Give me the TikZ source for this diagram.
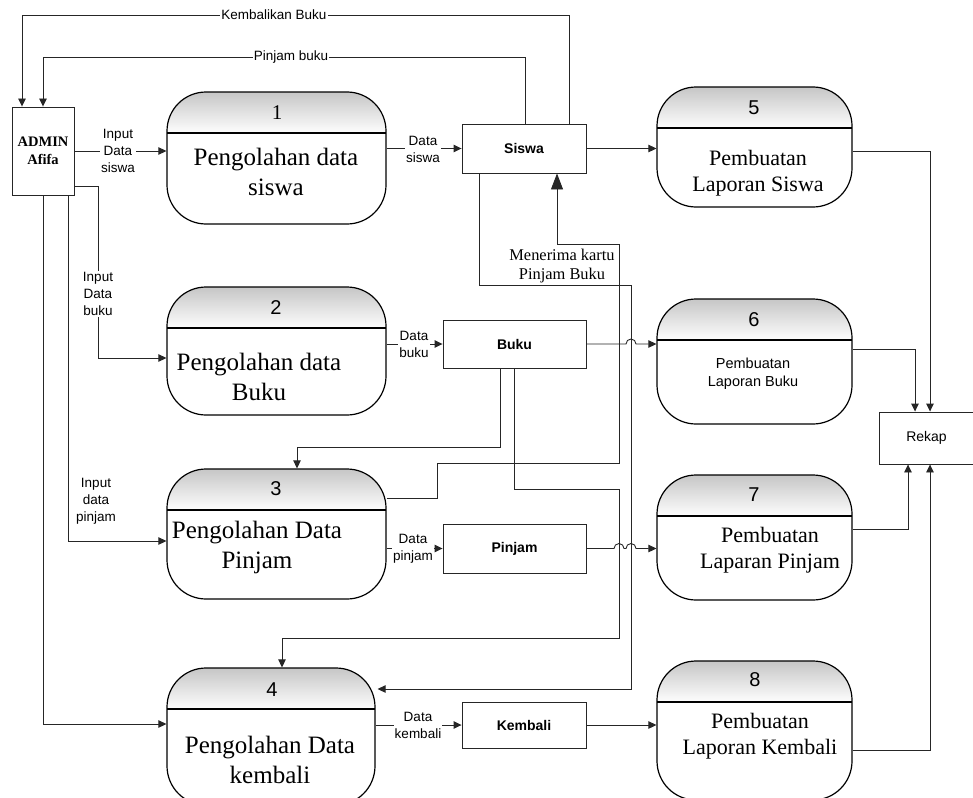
\documentclass[tikz,border=0pt]{standalone}
\usepackage{fontspec}
\setmainfont{Liberation Serif}
\newfontfamily\arial{Liberation Sans}
\usetikzlibrary{arrows.meta,calc}
\definecolor{hdtop}{HTML}{C6C6C6}
\definecolor{hdbot}{HTML}{FCFCFC}
\definecolor{ln}{HTML}{262626}
\tikzset{
  flow/.style={draw=ln, line width=0.9pt, -{Triangle[length=8pt,width=7.5pt]}},
  bigflow/.style={draw=ln, line width=0.9pt, -{Triangle[length=16pt,width=12pt]}},
  store/.style={draw=ln, line width=0.9pt, rectangle, inner sep=0pt, font=\arial\bfseries\fontsize{14}{16}\selectfont},
  proc/.style={draw=black, line width=1.2pt, rectangle, rounded corners=39pt, inner sep=0pt,
    path picture={
      \foreach \i in {0,...,40}{
        \pgfmathtruncatemacro\pc{100-\i*2.5}
        \pgfmathsetmacro\ya{-\i}
        \pgfmathsetmacro\yb{-\i-1.2}
        \fill[sharp corners, hdtop!\pc!hdbot] ([yshift=\ya pt]path picture bounding box.north west) rectangle ([yshift=\yb pt]path picture bounding box.north east);
      }
      \fill[sharp corners, white] ([yshift=-41.5pt]path picture bounding box.north west) rectangle (path picture bounding box.south east);
      \draw[sharp corners, line width=1.2pt] ([yshift=-41pt]path picture bounding box.north west) -- ([yshift=-41pt]path picture bounding box.north east);
    }},
  lbl/.style={font=\arial\fontsize{13.5}{17}\selectfont, align=center, inner sep=1pt, fill=white},
  numsf/.style={font=\arial\fontsize{20}{24}\selectfont, inner sep=0pt},
  numrm/.style={font=\fontsize{21}{24}\selectfont, inner sep=0pt},
  bigtxt/.style={font=\fontsize{25}{30}\selectfont, align=center, inner sep=0pt},
  midtxt/.style={font=\fontsize{22}{26}\selectfont, align=center, inner sep=0pt},
  smtxt/.style={font=\arial\fontsize{14.5}{18}\selectfont, align=center, inner sep=0pt},
}
\begin{document}
\begin{tikzpicture}[x=1pt,y=-1pt]
\useasboundingbox (0,0) rectangle (973,797);

% external entity and stores
\node[store, minimum width=62pt, minimum height=88pt, font=\bfseries\fontsize{14.5}{18}\selectfont, align=center] (admin) at (43,151) {ADMIN\\Afifa};
\node[store, minimum width=124pt, minimum height=49pt] (siswa) at (524,148.5) {Siswa};
\node[store, minimum width=143pt, minimum height=48pt] (buku) at (514.5,344) {Buku};
\node[store, minimum width=143pt, minimum height=49pt] (pinjam) at (514.5,548.5) {Pinjam};
\node[store, minimum width=124pt, minimum height=46pt] (kembali) at (524,725) {Kembali};
\node[store, font=\arial\fontsize{14}{16}\selectfont, minimum width=95pt, minimum height=52pt] (rekap) at (926.5,438) {Rekap};

% processes
\node[proc, minimum width=219pt, minimum height=132pt] (p1) at (276.5,158) {};
\node[proc, minimum width=219pt, minimum height=128pt] (p2) at (276.5,351) {};
\node[proc, minimum width=219pt, minimum height=130pt] (p3) at (276.5,534) {};
\node[proc, minimum width=208pt, minimum height=137pt] (p4) at (271,736.5) {};
\node[proc, minimum width=195pt, minimum height=120pt] (p5) at (754.5,147) {};
\node[proc, minimum width=195pt, minimum height=125pt] (p6) at (754.5,361.5) {};
\node[proc, minimum width=195pt, minimum height=125pt] (p7) at (754.5,537.5) {};
\node[proc, minimum width=195pt, minimum height=139pt] (p8) at (754.5,730.5) {};

\node[numrm] (p1n) at (277,113) {1};
\node[numsf] (p2n) at (276,308) {2};
\node[numsf] (p3n) at (276,489) {3};
\node[numsf] (p4n) at (272,690) {4};
\node[numsf] (p5n) at (754,108) {5};
\node[numsf] (p6n) at (754,320) {6};
\node[numsf] (p7n) at (754,495) {7};
\node[numsf] (p8n) at (755,680) {8};

\node[bigtxt] (p1t) at (276,172) {Pengolahan data\\siswa};
\node[bigtxt] (p2t) at (259,377) {Pengolahan data\\Buku};
\node[bigtxt] (p3t) at (257,547) {Pengolahan Data\\Pinjam};
\node[bigtxt] (p4t) at (270,760) {Pengolahan Data\\kembali};
\node[midtxt] (p5t) at (758,173) {Pembuatan\\Laporan Siswa};
\node[smtxt] (p6t) at (753,374) {Pembuatan\\Laporan Buku};
\node[midtxt] (p7t) at (770,550) {Pembuatan\\Laparan Pinjam};
\node[midtxt] (p8t) at (760,736) {Pembuatan\\Laporan Kembali};

% flows to admin
\draw[flow] ([xshift=45pt]siswa.north) -- (569,15) -- (22,15) -- ([xshift=-21pt]admin.north);
\node[lbl] (lkb) at (274,15) {Kembalikan Buku};
\draw[flow] ([xshift=1pt]siswa.north) -- (525,57) -- (43,57) -- (admin.north);
\node[lbl] (lpb) at (291,57) {Pinjam buku};

% admin inputs
\draw[flow] (admin.east) -- (p1.west |- admin.east);
\node[lbl] (lis) at (118,151) {Input\\Data\\siswa};
\draw[flow] ([yshift=-35pt]admin.east) -- (98,186) -- (98,358) -- ([yshift=-7pt]p2.west);
\node[lbl] (lib) at (98,294) {Input\\Data\\buku};
\draw[flow] ([xshift=25pt]admin.south) -- (68,541) -- ([yshift=-7pt]p3.west);
\node[lbl] (lip) at (96,501) {Input\\data\\pinjam};
\draw[flow] (admin.south) -- (43,724) -- ([yshift=12.5pt]p4.west);

% process to stores
\draw[flow] (p1.east |- siswa.west) -- (siswa.west);
\node[lbl] (lds) at (423,149) {Data\\siswa};
\draw[flow] (p2.east |- buku.west) -- (buku.west);
\node[lbl] (ldb) at (414,344) {Data\\buku};
\draw[flow] (p3.east |- pinjam.west) -- (pinjam.west);
\node[lbl] (ldp) at (413,549) {Data\\pinjam};
\draw[flow] (p4.east |- kembali.west) -- (kembali.west);
\node[lbl] (ldk) at (418,725) {Data\\kembali};

% cross links
\draw[bigflow] ([yshift=36pt]p3.east) -- (437,498) -- (437,463) -- (619,463) -- (619,244) -- (557,244) -- ([xshift=33pt]siswa.south);
\node[font=\fontsize{16.4}{18.5}\selectfont, align=center, inner sep=0pt] (lmk) at (562,266) {Menerima kartu\\Pinjam Buku};
\draw[flow] ([xshift=-45pt]siswa.south) -- (479,285) -- (631,285) -- (631,689) -- ([shift={(2pt,47.5pt)}]p4.east);
\draw[flow] ([xshift=-14.5pt]buku.south) -- (500,447) -- (297,447) -- ([xshift=20.5pt]p3.north);
\draw[flow] ([xshift=-0.5pt]buku.south) -- (514,489) -- (619,489) -- (619,638) -- (282,638) -- ([xshift=11pt]p4.north);

% stores to reports
\draw[flow] (siswa.east) -- (p5.west |- siswa.east);
\draw[flow] (buku.east) -- (626,344) arc[start angle=180, end angle=0, radius=5pt] -- (p6.west |- buku.east);
\draw[flow] (pinjam.east) -- (614,548.5) arc[start angle=180, end angle=0, radius=5pt] -- (626,548.5) arc[start angle=180, end angle=0, radius=5pt] -- (p7.west |- pinjam.east);
\draw[flow] (kembali.east) -- (p8.west |- kembali.east);

% reports to rekap
\draw[flow] ([yshift=-4pt]p5.east) -- (930,151) -- ([xshift=3.5pt]rekap.north);
\draw[flow] ([yshift=12.5pt]p6.east) -- (915,349) -- ([xshift=-11.5pt]rekap.north);
\draw[flow] ([yshift=8.5pt]p7.east) -- (908,529) -- ([xshift=-18.5pt]rekap.south);
\draw[flow] ([yshift=-19.5pt]p8.east) -- (930,750) -- ([xshift=3.5pt]rekap.south);
\end{tikzpicture}
\end{document}
